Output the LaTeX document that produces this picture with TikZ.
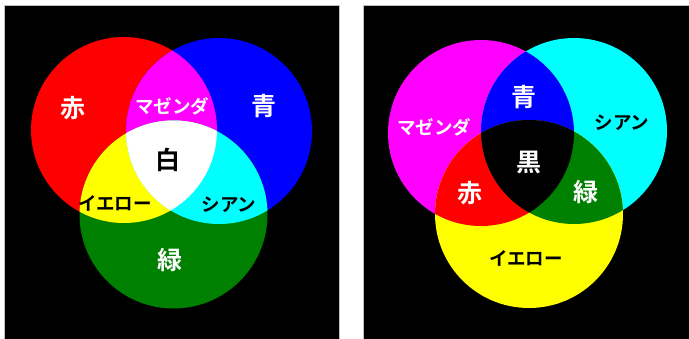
\documentclass[tikz,border=0pt]{standalone}
\usepackage{fontspec}
\newfontfamily\jp{Noto Sans CJK JP}[BoldFont={Noto Sans CJK JP Bold}]
\definecolor{cR}{RGB}{255,0,0}
\definecolor{cG}{RGB}{0,128,0}
\definecolor{cB}{RGB}{0,0,255}
\definecolor{cC}{RGB}{0,255,255}
\definecolor{cM}{RGB}{255,0,255}
\definecolor{cY}{RGB}{255,255,0}
\tikzset{
  kanji/.style={font=\jp\bfseries\fontsize{25}{25}\selectfont, inner sep=0pt},
  kana/.style={font=\jp\bfseries\fontsize{18.5}{19}\selectfont, inner sep=0pt},
  panel/.style={fill=black, draw=black!25, line width=0.8pt}
}
\begin{document}
\begin{tikzpicture}[x=1pt,y=-1pt]
\useasboundingbox (0,0) rectangle (689,338);
\fill[white] (0,0) rectangle (689,338);
% panels
\draw[panel] (4.5,5.5) rectangle (339,340);
\draw[panel] (363,5.5) rectangle (692,340);
% ---------- left: additive ----------
\def\cA{(124,130) circle[radius=93]}
\def\cBl{(219,131) circle[radius=93]}
\def\cGr{(173.5,214.5) circle[radius=94]}
\fill[cR] \cA;
\fill[cB] \cBl;
\fill[cG] \cGr;
\begin{scope}\clip \cA; \fill[cM] \cBl; \end{scope}
\begin{scope}\clip \cA; \fill[cY] \cGr; \end{scope}
\begin{scope}\clip \cBl; \fill[cC] \cGr; \end{scope}
\begin{scope}\clip \cA; \clip \cBl; \fill[white] \cGr; \end{scope}
\node[kanji, white] (aka1) at (73,108) {赤};
\node[kanji, white] (ao1) at (264,106) {青};
\node[kana, white] (mag1) at (172,106) {マゼンダ};
\node[kanji, black] (shiro) at (168,160) {白};
\node[kana, black] (ye1) at (115,203) {イエロー};
\node[kana, black] (cy1) at (229,205) {シアン};
\node[kanji, white] (mid1) at (170,260) {緑};
% ---------- right: subtractive ----------
\def\cMa{(481,133) circle[radius=93]}
\def\cCy{(574,131) circle[radius=93]}
\def\cYe{(529,214) circle[radius=94]}
\fill[cM] \cMa;
\fill[cC] \cCy;
\fill[cY] \cYe;
\begin{scope}\clip \cMa; \fill[cB] \cCy; \end{scope}
\begin{scope}\clip \cMa; \fill[cR] \cYe; \end{scope}
\begin{scope}\clip \cCy; \fill[cG] \cYe; \end{scope}
\begin{scope}\clip \cMa; \clip \cCy; \fill[black] \cYe; \end{scope}
\node[kanji, white] (ao2) at (524,97) {青};
\node[kana, white] (mag2) at (434,127) {マゼンダ};
\node[kana, black] (cy2) at (622,123) {シアン};
\node[kanji, white] (kuro) at (529,162) {黒};
\node[kanji, white] (aka2) at (470,193) {赤};
\node[kanji, white] (mid2) at (586,192) {緑};
\node[kana, black] (ye2) at (526,258) {イエロー};
\end{tikzpicture}
\end{document}
